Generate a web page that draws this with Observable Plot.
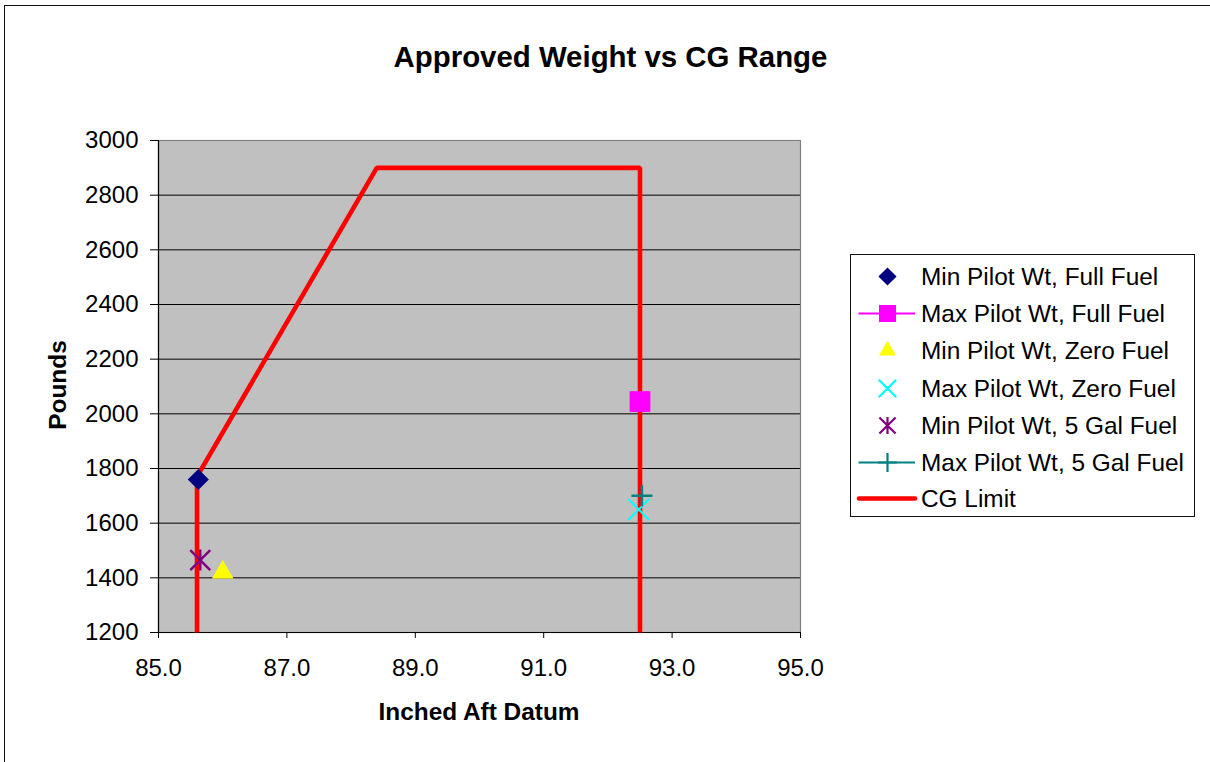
<!DOCTYPE html>
<html>
<head>
<meta charset="utf-8">
<script src="https://cdn.jsdelivr.net/npm/d3@7"></script>
<script src="https://cdn.jsdelivr.net/npm/@observablehq/plot@0.6"></script>
<style>
  html, body { margin: 0; padding: 0; background: #fff; overflow: hidden; }
  body { font-family: "Liberation Sans", Arial, sans-serif; color: #000; }
  #wrap { position: relative; width: 1210px; height: 762px; overflow: hidden; }
  #border { position: absolute; left: 4px; top: 5px; width: 1400px; height: 1000px; border: 1.5px solid #111; box-sizing: border-box; }
  #chart { position: absolute; left: 0; top: 0; }
  .title { position: absolute; left: 610.5px; top: 40px; transform: translateX(-50%); font-size: 29.4px; font-weight: bold; line-height: 34px; white-space: nowrap; }
  .xlabel { position: absolute; left: 479px; top: 698px; transform: translateX(-50%); font-size: 24.4px; font-weight: bold; line-height: 28px; white-space: nowrap; }
  .ylabel { position: absolute; left: 58px; top: 385px; transform: translate(-50%, -50%) rotate(-90deg); font-size: 24.4px; font-weight: bold; line-height: 28px; white-space: nowrap; }
  #legend { position: absolute; left: 850px; top: 254px; width: 345px; height: 263px; border: 1.3px solid #111; box-sizing: border-box; background: #fff; }
  .lrow { position: absolute; left: 0; height: 37px; width: 340px; }
  .lrow svg { position: absolute; left: 0; top: 0; }
  .lrow span { position: absolute; left: 70px; top: 0; line-height: 37px; font-size: 24.4px; white-space: nowrap; }
</style>
</head>
<body>
<div id="wrap">
  <div id="border"></div>
  <div id="chart"></div>
  <div class="title">Approved Weight vs CG Range</div>
  <div class="ylabel">Pounds</div>
  <div class="xlabel">Inched Aft Datum</div>
  <div id="legend"></div>
</div>
<script>
// ---- Data ----
const xTicks = [85, 87, 89, 91, 93, 95];
const yTicks = [1200, 1400, 1600, 1800, 2000, 2200, 2400, 2600, 2800, 3000];

// CG limit envelope
const cgX = [85.6, 85.6, 88.4, 92.5, 92.5];
const cgY = [1200, 1770, 2900, 2900, 1200];

// Loading points
const seriesNames = [
  "Min Pilot Wt, Full Fuel",
  "Max Pilot Wt, Full Fuel",
  "Min Pilot Wt, Zero Fuel",
  "Max Pilot Wt, Zero Fuel",
  "Min Pilot Wt, 5 Gal Fuel",
  "Max Pilot Wt, 5 Gal Fuel"
];
const seriesX = [85.62, 92.5, 86.0, 92.48, 85.65, 92.53];
const seriesY = [1760, 2045, 1420, 1650, 1465, 1700];
const cgName = "CG Limit";

// ---- Styles ----
// Excel-style star marker: an X with a vertical bar
const excelStar = {
  draw(context, size) {
    const r = Math.sqrt(size / Math.PI);
    const d = r * 0.95;
    context.moveTo(0, -r); context.lineTo(0, r);
    context.moveTo(-d, -d); context.lineTo(d, d);
    context.moveTo(-d, d); context.lineTo(d, -d);
  }
};
const colors = ["#000080", "#FF00FF", "#FFFF00", "#00FFFF", "#800080", "#008080"];
const symbols = ["diamond2", "square", "triangle2", "times", excelStar, "plus"];
const filled = [true, true, true, false, false, false];
const radii = [9.5, 11.7, 10.3, 9.6, 10.5, 6.8];
const strokeW = [0, 0, 0, 2, 2.5, 2.5];

const cg = cgX.map((x, i) => ({x, y: cgY[i]}));
const pts = seriesNames.map((name, i) => ({name, x: seriesX[i], y: seriesY[i], i}));

const dotMarks = pts.map((p, i) => Plot.dot([p], filled[i]
  ? {x: "x", y: "y", symbol: symbols[i], r: radii[i], fill: colors[i], stroke: "none"}
  : {x: "x", y: "y", symbol: symbols[i], r: radii[i], fill: "none", stroke: colors[i], strokeWidth: strokeW[i]}
));

const chart = Plot.plot({
  width: 1210,
  height: 762,
  marginLeft: 158,
  marginTop: 140,
  marginRight: 410,
  marginBottom: 130,
  style: {fontFamily: "'Liberation Sans', Arial, sans-serif", fontSize: "24px", color: "#000", background: "transparent", overflow: "visible"},
  x: {domain: [85, 95], label: null},
  y: {domain: [1200, 3000], label: null},
  marks: [
    Plot.frame({fill: "#C0C0C0", stroke: "none"}),
    Plot.ruleY(yTicks, {stroke: "#000", strokeWidth: 1}),
    Plot.frame({stroke: "#808080", strokeWidth: 1.2, fill: "none"}),
    Plot.ruleX([85], {stroke: "#000", strokeWidth: 1.2}),
    Plot.ruleY([1200], {stroke: "#000", strokeWidth: 1.2}),
    Plot.axisX({ticks: xTicks, tickFormat: d => d.toFixed(1), tickSize: 6, tickPadding: 20, fontSize: 24, label: null}),
    Plot.axisY({ticks: yTicks, tickFormat: d => String(d), tickSize: 8, tickPadding: 12, fontSize: 24, label: null}),
    Plot.line(cg, {x: "x", y: "y", stroke: "#FF0000", strokeWidth: 4.6, strokeLinejoin: "miter", strokeLinecap: "butt"}),
    ...dotMarks
  ]
});
document.getElementById("chart").appendChild(chart);

// ---- Legend ----
const legend = d3.select("#legend");
const legendSym = [d3.symbolDiamond2, d3.symbolSquare, d3.symbolTriangle2, d3.symbolTimes, excelStar, d3.symbolPlus];
const legendSize = [210, 289, 206, 200, 227, 120];
const hasLine = [false, true, false, false, false, true];
const rowTop = [2.5, 40, 77, 114.5, 152, 189, 225];
seriesNames.concat([cgName]).forEach((name, i) => {
  const row = legend.append("div").attr("class", "lrow").style("top", rowTop[i] + "px");
  const svg = row.append("svg").attr("width", 70).attr("height", 37);
  if (i === 6) {
    svg.append("line").attr("x1", 8).attr("x2", 64).attr("y1", 18.5).attr("y2", 18.5)
      .attr("stroke", "#FF0000").attr("stroke-width", 4.6).attr("stroke-linecap", "round");
  } else {
    if (hasLine[i]) {
      svg.append("line").attr("x1", 7.5).attr("x2", 64).attr("y1", 18.5).attr("y2", 18.5)
        .attr("stroke", colors[i]).attr("stroke-width", 1.8);
    }
    const p = svg.append("path").attr("transform", "translate(36.5,18.5)")
      .attr("d", d3.symbol().type(legendSym[i]).size(legendSize[i])());
    if (filled[i]) p.attr("fill", colors[i]);
    else p.attr("fill", "none").attr("stroke", colors[i]).attr("stroke-width", 2.2);
  }
  row.append("span").text(name);
});
</script>
</body>
</html>
